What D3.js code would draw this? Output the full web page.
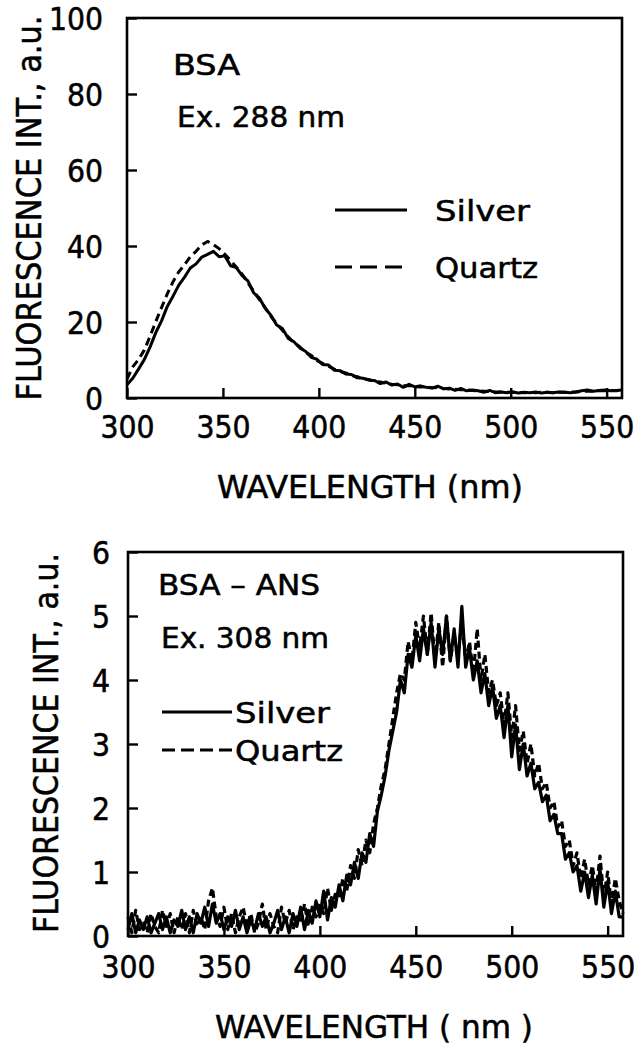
<!DOCTYPE html>
<html><head><meta charset="utf-8">
<script src="https://cdn.jsdelivr.net/npm/d3@7"></script>
<style>body{margin:0;background:#fff}svg{display:block}svg text{stroke:#000;stroke-width:0.5px}</style>
</head><body>
<svg id="c" width="639" height="1046"></svg>
<script>
// ---------- DATA ----------
const xTicks = [300, 350, 400, 450, 500, 550];
const yTicksTop = [0, 20, 40, 60, 80, 100];
const yTicksBot = [0, 1, 2, 3, 4, 5, 6];

// Top panel (BSA, Ex. 288 nm), wavelength step 3 nm from 300
const topStart = 300, topStep = 3;
const topSilver = [3.5,5.2,7.6,10.1,13.4,17.2,20.3,24.1,26.8,29.7,31.8,34.2,35.3,37.1,37.8,38.6,37.2,37.4,34.8,34.3,32.2,30.8,27.7,26.3,23.6,21.8,19.2,18.3,15.7,14.8,13.2,12.3,10.7,10.2,8.8,8.7,7.3,7.2,6.3,6.2,5.3,5.2,4.7,4.6,3.8,4.2,3.4,3.7,2.8,3.6,2.9,3.2,2.8,2.6,3.1,2.4,2.6,2.0,2.5,1.9,2.1,1.9,1.5,2.0,1.4,1.6,1.4,1.6,1.3,1.5,1.4,1.6,1.3,1.5,1.4,1.6,1.5,1.4,1.6,1.9,2.1,1.8,2.0,2.1,1.9,2.0,2.1];
const topQuartz = [5.0,8.2,10.1,12.6,16.2,20.1,23.8,27.4,30.6,33.2,35.1,37.2,38.6,40.3,41.2,40.4,39.3,37.8,36.2,34.4,32.6,30.3,28.2,25.9,23.8,21.5,19.6,17.8,16.1,14.6,13.5,12.0,11.2,9.8,9.1,8.4,7.6,7.0,6.6,5.9,5.6,5.1,4.9,4.4,4.2,3.9,3.6,3.5,3.2,3.3,3.0,2.9,3.0,2.7,2.8,2.5,2.4,2.3,2.2,2.1,2.0,1.9,1.8,1.7,1.6,1.6,1.5,1.5,1.5,1.4,1.5,1.4,1.5,1.5,1.4,1.5,1.5,1.6,1.6,1.7,1.8,1.8,1.9,1.9,2.0,1.9,2.0];

// Bottom panel (BSA-ANS, Ex. 308 nm), wavelength step 2 nm from 300
const botStart = 300, botStep = 2;
const botSilver = [0.1,0.35,0.05,0.25,0.1,0.3,0.05,0.2,0.35,0.1,
  0.3,0.05,0.25,0.15,0.4,0.1,0.3,0.05,0.35,0.2,
  0.45,0.15,0.5,0.2,0.35,0.1,0.3,0.15,0.4,0.1,
  0.3,0.05,0.25,0.1,0.35,0.15,0.3,0.05,0.2,0.4,
  0.1,0.3,0.05,0.35,0.15,0.45,0.1,0.4,0.2,0.55,
  0.3,0.7,0.25,0.6,0.45,0.8,0.55,0.95,0.8,1.15,
  0.9,1.3,1.15,1.6,1.4,1.95,2.2,2.5,2.9,3.2,
  3.5,4.0,3.8,4.4,4.2,4.7,4.3,4.8,4.4,4.9,
  4.2,4.8,4.4,5.0,4.3,4.8,4.2,5.15,4.2,4.5,
  4.0,4.3,3.8,4.1,3.6,3.9,3.4,3.6,3.1,3.6,
  2.8,3.3,2.6,3.0,2.5,2.7,2.3,2.4,2.1,2.2,
  1.8,1.9,1.6,1.6,1.2,1.3,1.0,1.1,0.7,1.0,
  0.6,0.95,0.5,1.05,0.45,0.85,0.35,0.7,0.3,0.3];
const botQuartz = [0.3,0.05,0.4,0.1,0.2,0.05,0.35,0.15,0.05,0.4,
  0.15,0.35,0.05,0.3,0.1,0.35,0.05,0.4,0.15,0.3,
  0.1,0.55,0.75,0.3,0.15,0.45,0.1,0.35,0.05,0.3,
  0.45,0.15,0.35,0.05,0.2,0.5,0.1,0.35,0.15,0.05,
  0.45,0.2,0.4,0.1,0.3,0.2,0.5,0.15,0.45,0.3,
  0.5,0.35,0.75,0.4,0.65,0.6,0.9,0.7,1.1,0.9,
  1.35,1.1,1.5,1.3,1.75,2.0,2.35,2.6,3.0,3.4,
  3.8,4.1,4.0,4.6,4.3,4.9,4.5,5.0,4.4,5.05,
  4.3,4.9,4.2,5.0,4.3,4.7,4.4,4.9,4.3,4.6,
  4.1,4.8,4.0,4.4,3.8,4.0,3.6,3.8,3.3,3.8,
  3.1,3.6,2.9,3.2,2.7,3.0,2.5,2.7,2.3,2.4,
  2.0,2.1,1.7,1.8,1.4,1.5,1.1,1.3,0.9,1.2,
  0.8,1.1,0.7,1.25,0.6,1.0,0.5,0.9,0.55,0.35];

const seriesNames = ["Silver", "Quartz"];

// ---------- DRAW ----------
const svg = d3.select("#c");
const FONT = "'DejaVu Sans Condensed','DejaVu Sans',sans-serif";

function panel(cfg) {
  const x = d3.scaleLinear().domain([300, 558]).range([cfg.left, cfg.right]);
  const y = d3.scaleLinear().domain(cfg.yDomain).range([cfg.bottom, cfg.top]);
  const g = svg.append("g");

  g.append("rect").attr("x", cfg.left).attr("y", cfg.top)
    .attr("width", cfg.right - cfg.left).attr("height", cfg.bottom - cfg.top)
    .attr("fill", "none").attr("stroke", "#000").attr("stroke-width", 2.6);

  const xa = g.append("g").attr("transform", `translate(0,${cfg.bottom})`)
    .call(d3.axisBottom(x).tickValues(xTicks).tickSize(-10).tickFormat(d3.format("d")));
  xa.select(".domain").remove();
  xa.selectAll(".tick line").attr("stroke", "#000").attr("stroke-width", 2.4);
  xa.selectAll(".tick text").attr("y", cfg.xLabelOff).attr("dy", 0)
    .attr("font-family", FONT).attr("font-size", 31.5).attr("fill", "#000");

  const ya = g.append("g").attr("transform", `translate(${cfg.left},0)`)
    .call(d3.axisLeft(y).tickValues(cfg.yTicks).tickSize(-10).tickFormat(d3.format("d")));
  ya.select(".domain").remove();
  ya.selectAll(".tick line").attr("stroke", "#000").attr("stroke-width", 2.4);
  ya.selectAll(".tick text").attr("x", -cfg.yLabelGap).attr("dy", 11.5)
    .attr("font-family", FONT).attr("font-size", 31.5).attr("fill", "#000");

  const line = (start, step) => d3.line()
    .x((d, i) => x(start + i * step)).y(d => y(d));
  g.append("path").datum(cfg.silver)
    .attr("d", line(cfg.start, cfg.step))
    .attr("fill", "none").attr("stroke", "#000").attr("stroke-width", cfg.lw)
    .attr("stroke-linejoin", "round");
  g.append("path").datum(cfg.quartz)
    .attr("d", line(cfg.start, cfg.step))
    .attr("fill", "none").attr("stroke", "#000").attr("stroke-width", cfg.lw)
    .attr("stroke-dasharray", cfg.curveDash).attr("stroke-linejoin", "round");

  g.append("text").attr("x", cfg.xTitle.x).attr("y", cfg.xTitle.y)
    .attr("text-anchor", "middle").attr("font-family", FONT).attr("font-size", 31.5)
    .attr("textLength", cfg.xTitle.len).attr("lengthAdjust", "spacingAndGlyphs")
    .text(cfg.xTitle.text);
  g.append("text").attr("transform", `translate(${cfg.yTitle.x},${cfg.yTitle.y}) rotate(-90)`)
    .attr("text-anchor", "middle").attr("font-family", FONT).attr("font-size", 34)
    .attr("textLength", cfg.yTitle.len).attr("lengthAdjust", "spacingAndGlyphs")
    .text("FLUORESCENCE  INT., a.u.");

  cfg.notes.forEach(n => {
    g.append("text").attr("x", n.x).attr("y", n.y).attr("font-family", FONT)
      .attr("font-size", 28).attr("textLength", n.len).attr("lengthAdjust", "spacingAndGlyphs")
      .text(n.text);
  });

  const L = cfg.legend;
  seriesNames.forEach((name, i) => {
    const ly = L.y[i];
    g.append("line").attr("x1", L.x1).attr("x2", L.x2).attr("y1", ly).attr("y2", ly)
      .attr("stroke", "#000").attr("stroke-width", 2.8)
      .attr("stroke-dasharray", i === 1 ? L.dash : null);
    g.append("text").attr("x", L.tx).attr("y", ly + 11).attr("font-family", FONT)
      .attr("font-size", 29).attr("textLength", L.len[i]).attr("lengthAdjust", "spacingAndGlyphs")
      .text(name);
  });
}

panel({
  left: 127, right: 622, top: 18, bottom: 398,
  yDomain: [0, 100], yTicks: yTicksTop, yLabelGap: 24,
  xLabelOff: 40, start: topStart, step: topStep, lw: 3, curveDash: "8,5",
  silver: topSilver, quartz: topQuartz,
  xTitle: {x: 370, y: 498, len: 306, text: "WAVELENGTH  (nm)"},
  yTitle: {x: 41, y: 208, len: 385},
  notes: [{x: 173, y: 75, len: 67, text: "BSA"}, {x: 177, y: 127, len: 168, text: "Ex. 288 nm"}],
  legend: {x1: 335, x2: 407, tx: 435, y: [210, 267], dash: "17,8", len: [95, 103]}
});

panel({
  left: 128, right: 623, top: 552, bottom: 936,
  yDomain: [0, 6], yTicks: yTicksBot, yLabelGap: 18,
  xLabelOff: 42, start: botStart, step: botStep, lw: 3.2, curveDash: "7,4",
  silver: botSilver, quartz: botQuartz,
  xTitle: {x: 374, y: 1038, len: 318, text: "WAVELENGTH  ( nm )"},
  yTitle: {x: 58, y: 743, len: 380},
  notes: [{x: 158, y: 595, len: 162, text: "BSA – ANS"}, {x: 161, y: 648, len: 168, text: "Ex. 308 nm"}],
  legend: {x1: 162, x2: 232, tx: 235, y: [712, 750], dash: "13,6", len: [95, 108]}
});
</script>
</body></html>
